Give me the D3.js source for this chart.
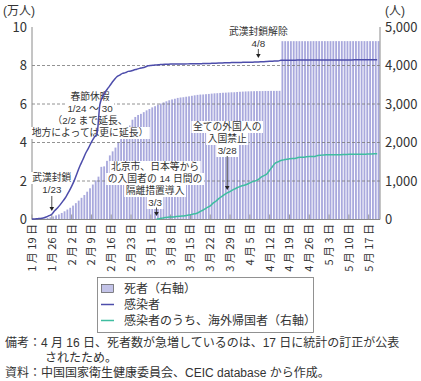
<!DOCTYPE html>
<html lang="ja"><head><meta charset="utf-8">
<script src="https://cdn.jsdelivr.net/npm/d3@7"></script>
<style>
body{margin:0;background:#fff}
svg{display:block}
text{font-family:"Noto Sans CJK JP","Noto Sans",sans-serif;fill:#333}
text.tight{font-family:"Liberation Sans","Noto Sans CJK JP",sans-serif}
</style></head><body><svg id="c" width="421" height="381"></svg>
<script>
// ---- data ----
const startDate = new Date(2020, 0, 19);
// cumulative deaths (persons, right axis), daily 1/19 - 5/20
const deaths = [
  3, 6, 9, 17, 25, 41, 56, 80, 106, 132, 170, 213, 259,
  304, 361, 425, 490, 563, 636, 722, 811, 908, 1016, 1113, 1367, 1380, 1523, 1665, 1770, 1868, 2004, 2118, 2236, 2345, 2442, 2592, 2663, 2715, 2744, 2788, 2835, 2870,
  2912, 2943, 2981, 3012, 3042, 3070, 3097, 3119, 3136, 3158, 3169, 3176, 3189, 3199, 3213, 3226, 3237, 3245, 3248, 3255, 3261, 3270, 3277, 3281, 3287, 3292, 3295, 3300, 3304, 3305, 3312,
  3318, 3322, 3326, 3329, 3331, 3333, 3335, 3335, 3336, 3339, 3339, 3341, 3341, 3341, 3342, 4632, 4632, 4632, 4632, 4632, 4632, 4632, 4632, 4632, 4632, 4632, 4633, 4633, 4633, 4633,
  4633, 4633, 4633, 4633, 4633, 4633, 4633, 4633, 4633, 4633, 4633, 4633, 4633, 4633, 4633, 4633, 4633, 4633, 4633, 4633
];
// cumulative infected (persons, left axis in 万人), daily 1/19 - 5/20
const infected = [
  198, 291, 440, 571, 830, 1287, 1975, 2744, 4515, 5974, 7711, 9692, 11791,
  14380, 17205, 20438, 24324, 28018, 31161, 34546, 37198, 40171, 42638, 44653, 59804, 63851, 66492, 68500, 70548, 72436, 74185, 75002, 75891, 76288, 76936, 77150, 77658, 78064, 78497, 78824, 79251, 79824,
  80026, 80151, 80270, 80409, 80552, 80651, 80695, 80735, 80754, 80778, 80793, 80813, 80824, 80844, 80860, 80881, 80894, 80928, 80967, 81008, 81054, 81093, 81171, 81218, 81285, 81340, 81394, 81439, 81470, 81518, 81554,
  81589, 81620, 81639, 81669, 81708, 81740, 81802, 81865, 81907, 81953, 82052, 82160, 82249, 82295, 82341, 82692, 82719, 82735, 82747, 82758, 82788, 82798, 82804, 82816, 82827, 82830, 82836, 82858, 82862, 82874,
  82875, 82877, 82880, 82881, 82883, 82885, 82886, 82887, 82901, 82918, 82919, 82926, 82929, 82933, 82941, 82947, 82954, 82960, 82965, 82967
];
// cumulative infected returning from abroad (persons, right axis), daily 3/3 - 5/20
const importedStart = new Date(2020, 2, 3);
const imported = [
  13, 20, 36, 52, 60, 63, 67, 79, 85, 88, 95, 111, 123, 143, 155, 189, 228, 269, 314, 353, 427, 474, 541, 595, 649, 693, 723, 771, 806,
  841, 870, 889, 914, 951, 983, 1004, 1042, 1103, 1141, 1183, 1280, 1378, 1464, 1500, 1534, 1549, 1566, 1575, 1583, 1587, 1610, 1616, 1618, 1629, 1634, 1636, 1639, 1664, 1670,
  1676, 1680, 1681, 1683, 1683, 1684, 1685, 1687, 1690, 1693, 1694, 1697, 1698, 1698, 1698, 1698, 1703, 1704, 1706, 1709
];
const leftTicks = [0, 2, 4, 6, 8, 10];
const rightTicks = [0, 1000, 2000, 3000, 4000, 5000];
const gridTicks = [2, 4, 6, 8];
const legendLabels = ["死者（右軸）", "感染者", "感染者のうち、海外帰国者（右軸）"];
const notes = [
  "備考：4 月 16 日、死者数が急増しているのは、17 日に統計の訂正が公表",
  "されたため。",
  "資料：中国国家衛生健康委員会、CEIC database から作成。"
];

// ---- build ----
const svg = d3.select("#c");
svg.append("rect").attr("width", 421).attr("height", 381).attr("fill", "#fff");

const L = 32, R = 380, T = 27, B = 219.5;
const x = d3.scaleTime().domain([new Date(2020, 0, 19), new Date(2020, 4, 21)]).range([L, R]);
const yL = d3.scaleLinear().domain([0, 10]).range([B, T]);
const yR = d3.scaleLinear().domain([0, 5000]).range([B, T]);

const day = i => d3.timeDay.offset(startDate, i);
const deathData = deaths.map((v, i) => ({ d: day(i), v }));
const infData = infected.map((v, i) => ({ d: day(i), v: v / 10000 }));
const impData = imported.map((v, i) => ({ d: d3.timeDay.offset(importedStart, i), v }));

// bars
svg.append("g").selectAll("rect").data(deathData).join("rect")
  .attr("x", d => x(d.d) + 0.5)
  .attr("width", d => x(d3.timeDay.offset(d.d, 1)) - x(d.d) - 1.0)
  .attr("y", d => yR(d.v))
  .attr("height", d => B - yR(d.v))
  .attr("fill", "#a9a9dd");

// grid
svg.append("g").selectAll("line").data(gridTicks).join("line")
  .attr("x1", L).attr("x2", R)
  .attr("y1", d => yL(d)).attr("y2", d => yL(d))
  .attr("stroke", "#777").attr("stroke-width", 0.8).attr("stroke-dasharray", "3,2");

// axes lines
const axisColor = "#8a8a8a";
svg.append("line").attr("x1", L).attr("x2", L).attr("y1", yL(10)).attr("y2", B).attr("stroke", axisColor);
svg.append("line").attr("x1", R).attr("x2", R).attr("y1", yR(5000)).attr("y2", B).attr("stroke", axisColor);
svg.append("line").attr("x1", L).attr("x2", R).attr("y1", B).attr("y2", B).attr("stroke", axisColor);

// x ticks
const xTicks = d3.timeDay.range(new Date(2020, 0, 19), new Date(2020, 4, 18), 7);
svg.append("g").selectAll("line").data(xTicks).join("line")
  .attr("x1", d => x(d)).attr("x2", d => x(d))
  .attr("y1", B).attr("y2", B - 5)
  .attr("stroke", "#999").attr("stroke-width", 1);
svg.append("g").selectAll("text").data(xTicks).join("text")
  .attr("transform", d => `translate(${x(d)},224) rotate(-90)`)
  .attr("text-anchor", "end").attr("dy", "0.36em")
  .attr("font-size", 11)
  .text(d => `${d.getMonth() + 1} 月 ${d.getDate()} 日`);

// y labels
svg.append("g").selectAll("text").data(leftTicks).join("text")
  .attr("x", 27).attr("y", d => yL(d)).attr("dy", "0.35em")
  .attr("text-anchor", "end").attr("font-size", 13)
  .text(d => d);
svg.append("g").selectAll("text").data(rightTicks).join("text")
  .attr("x", 385).attr("y", d => yR(d)).attr("dy", "0.35em")
  .attr("text-anchor", "start").attr("font-size", 13)
  .text(d => d3.format(",")(d));
svg.append("text").attr("class", "tight").attr("x", 3).attr("y", 15).attr("font-size", 12).text("(万人)");
svg.append("text").attr("class", "tight").attr("x", 385).attr("y", 15).attr("font-size", 12).text("(人)");

// annotations: one text per line on white line backgrounds
const annotations = [
  { lines: ["武漢封鎖", "1/23"], at: new Date(2020, 0, 26), y0: 178, arrow: [196, 211] },
  { lines: ["春節休暇", "1/24 ～ 30", "（2/2 まで延長、", "地方によっては更に延長）"], at: new Date(2020, 1, 8, 12), y0: 97 },
  { lines: ["北京市、日本等から", "の入国者の 14 日間の", "隔離措置導入", "3/3"], at: new Date(2020, 2, 2, 12), y0: 167, arrow: [207.5, 216], arrowAt: new Date(2020, 2, 3) },
  { lines: ["全ての外国人の", "入国禁止", "3/28"], at: new Date(2020, 2, 28), y0: 127, arrow: [156, 190] },
  { lines: ["武漢封鎖解除", "4/8"], at: new Date(2020, 3, 8), y0: 32, arrow: [49, 58] }
];
const lineH = 12;
const annG = svg.append("g");
const annBoxes = annG.append("g");
const annTexts = annG.append("g");
annotations.forEach(a => {
  const cx = x(a.at);
  a.lines.forEach((t, i) => {
    const tx = annTexts.append("text").attr("class", "tight")
      .attr("x", cx).attr("y", a.y0 + i * lineH).attr("dy", "0.35em")
      .attr("text-anchor", "middle").attr("font-size", 9.8).attr("fill", "#222")
      .text(t);
    const w = tx.node().getComputedTextLength();
    annBoxes.append("rect")
      .attr("x", cx - w / 2 - 1.5).attr("y", a.y0 + i * lineH - 6)
      .attr("width", w + 3).attr("height", lineH)
      .attr("fill", "#fff");
  });
});

// lines
const lineGen = d3.line().x(d => x(d.d)).y(d => d.y).curve(d3.curveMonotoneX);
svg.append("path")
  .datum(infData.map(d => ({ d: d.d, y: yL(d.v) })))
  .attr("d", lineGen).attr("fill", "none")
  .attr("stroke", "#4d4dab").attr("stroke-width", 1.5);
svg.append("path")
  .datum(impData.map(d => ({ d: d.d, y: yR(d.v) })))
  .attr("d", lineGen).attr("fill", "none")
  .attr("stroke", "#3fbda0").attr("stroke-width", 1.5);

// arrows
annotations.filter(a => a.arrow).forEach(a => {
  const ax = x(a.arrowAt || a.at);
  const [y1, y2] = a.arrow;
  svg.append("line").attr("x1", ax).attr("x2", ax).attr("y1", y1).attr("y2", y2 - 3)
    .attr("stroke", "#222").attr("stroke-width", 0.8);
  svg.append("path")
    .attr("d", `M${ax - 2.3},${y2 - 4}L${ax + 2.3},${y2 - 4}L${ax},${y2}Z`)
    .attr("fill", "#222");
});

// legend
const lg = svg.append("g");
lg.append("rect").attr("x", 97.5).attr("y", 277.5).attr("width", 216).attr("height", 55)
  .attr("fill", "#fff").attr("stroke", "#777").attr("stroke-width", 0.8);
const rowsY = [288.5, 304.5, 320.5];
lg.append("rect").attr("x", 101.5).attr("y", rowsY[0] - 4).attr("width", 12).attr("height", 8)
  .attr("fill", "#c3c3e8").attr("stroke", "#555").attr("stroke-width", 0.7);
lg.append("line").attr("x1", 101).attr("x2", 114).attr("y1", rowsY[1]).attr("y2", rowsY[1])
  .attr("stroke", "#4d4dab").attr("stroke-width", 1.5);
lg.append("line").attr("x1", 101).attr("x2", 114).attr("y1", rowsY[2]).attr("y2", rowsY[2])
  .attr("stroke", "#3fbda0").attr("stroke-width", 1.5);
lg.selectAll("text.l").data(legendLabels).join("text")
  .attr("class", "tight")
  .attr("x", 124).attr("y", (d, i) => rowsY[i]).attr("dy", "0.36em")
  .attr("font-size", 12).attr("fill", "#222")
  .text(d => d);

// notes
const noteX = [5, 45, 5];
const noteY = [343, 358, 373];
svg.append("g").selectAll("text").data(notes).join("text")
  .attr("class", "tight")
  .attr("x", (d, i) => noteX[i]).attr("y", (d, i) => noteY[i]).attr("dy", "0.36em")
  .attr("font-size", 12).attr("fill", "#222")
  .text(d => d);
</script></body></html>
